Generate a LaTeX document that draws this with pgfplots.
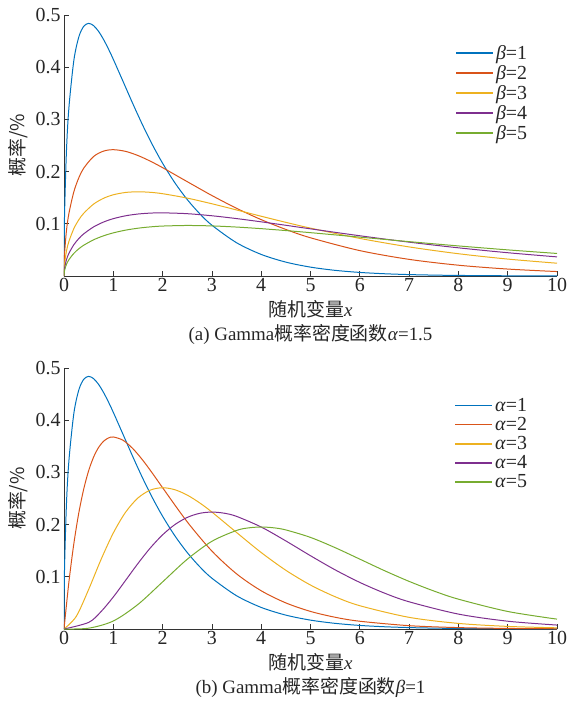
\documentclass[border=0pt]{standalone}
\usepackage{pgfplots}
\pgfplotsset{compat=1.18}
\usepackage{fontspec}
\setmainfont{Liberation Serif}
\newfontfamily\cjk{Noto Sans CJK SC}
\definecolor{mB}{rgb}{0,0.447,0.741}
\definecolor{mR}{rgb}{0.85,0.325,0.098}
\definecolor{mY}{rgb}{0.929,0.694,0.125}
\definecolor{mP}{rgb}{0.494,0.184,0.556}
\definecolor{mG}{rgb}{0.466,0.674,0.188}
\pgfplotsset{
  gam/.style={
    scale only axis, width=493bp, height=261bp,
    xmin=0, xmax=10, ymin=0, ymax=0.5,
    xtick={0,1,...,10}, ytick={0.1,0.2,0.3,0.4,0.5},
    axis lines=left, axis line style={-, black!80, line width=0.7pt},
    tick align=inside, major tick length=5bp,
    tick style={black!80, line width=0.7pt},
    /pgf/number format/assume math mode=true,
    yticklabel style={/pgf/number format/.cd, fixed, precision=1},
    ticklabel style={font=\fontsize{20}{22}\selectfont, text=black!85},
    xticklabel style={yshift=1bp},
    label style={font=\fontsize{19}{24}\selectfont, text=black!85},
    xlabel style={align=center, yshift=-2bp},
    ylabel style={yshift=1bp},
    ylabel={\cjk 概率/\%},
    legend style={at={(0.95,0.9)}, anchor=north east, draw=none, fill=none,
      font=\fontsize{20}{21}\selectfont, row sep=0.5bp, text=black!85},
    legend cell align=left,
    legend image code/.code={\draw[#1, line width=1.4pt] (0bp,0bp) -- (37bp,0bp);},
    every axis plot/.append style={line width=1pt, smooth, no markers},
    clip=true,
  }
}
\begin{document}
\begin{tikzpicture}
\useasboundingbox (-64bp,-425bp) rectangle (505bp,276bp);
\begin{axis}[gam, xlabel={{\cjk 随机变量}\textit{x}\\(a) Gamma{\cjk 概率密度函数}\textit{α}=1.5}]
\addplot[mB] coordinates {(0,0) (0.01,0.11172) (0.05,0.24001) (0.1,0.32287) (0.2,0.41315) (0.3,0.45785) (0.4,0.47837) (0.5,0.48394) (0.6,0.47968) (0.7,0.46881) (0.8,0.45349) (0.9,0.43522) (1.0,0.41511) (1.2,0.37230) (1.4,0.32924) (1.6,0.28817) (1.8,0.25024) (2.0,0.21597) (2.25,0.17840) (2.5,0.14645) (2.75,0.11962) (3.0,0.09730) (3.5,0.06375) (4.0,0.04134) (4.5,0.02659) (5.0,0.01700) (5.5,0.01082) (6.0,0.00685) (6.5,0.00432) (7.0,0.00272) (7.5,0.00171) (8.0,0.00107) (9.0,0.00042) (10,0.00016)};
\addlegendentry{\textit{β}=1}
\addplot[mR] coordinates {(0,0) (0.01,0.03970) (0.05,0.08700) (0.1,0.12000) (0.2,0.16143) (0.3,0.18807) (0.4,0.20658) (0.6,0.22893) (0.8,0.23919) (1.0,0.24197) (1.25,0.23874) (1.5,0.23080) (1.75,0.22000) (2.0,0.20755) (2.5,0.18072) (3.0,0.15418) (3.5,0.12970) (4.0,0.10798) (4.5,0.08920) (5.0,0.07322) (6.0,0.04865) (7.0,0.03187) (8.0,0.02067) (9.0,0.01330) (10,0.00850)};
\addlegendentry{\textit{β}=2}
\addplot[mY] coordinates {(0,0) (0.01,0.02164) (0.05,0.04776) (0.1,0.06642) (0.2,0.09085) (0.3,0.10762) (0.4,0.12020) (0.6,0.13772) (0.8,0.14877) (1.0,0.15560) (1.25,0.16006) (1.5,0.16131) (1.75,0.16031) (2.0,0.15767) (2.5,0.14922) (3.0,0.13837) (3.5,0.12651) (4.0,0.11448) (4.5,0.10279) (5.0,0.09171) (6.0,0.07199) (7.0,0.05571) (8.0,0.04268) (9.0,0.03243) (10,0.02450)};
\addlegendentry{\textit{β}=3}
\addplot[mP] coordinates {(0,0) (0.01,0.01407) (0.05,0.03115) (0.1,0.04350) (0.2,0.06000) (0.3,0.07167) (0.4,0.08072) (0.6,0.09404) (0.8,0.10329) (1.0,0.10985) (1.25,0.11537) (1.5,0.11873) (1.75,0.12047) (2.0,0.12099) (2.5,0.11937) (3.0,0.11540) (3.5,0.11000) (4.0,0.10378) (4.5,0.09714) (5.0,0.09036) (6.0,0.07709) (7.0,0.06485) (8.0,0.05399) (9.0,0.04460) (10,0.03661)};
\addlegendentry{\textit{β}=4}
\addplot[mG] coordinates {(0,0) (0.01,0.01007) (0.05,0.02234) (0.1,0.03128) (0.2,0.04337) (0.3,0.05206) (0.4,0.05892) (0.6,0.06934) (0.8,0.07692) (1.0,0.08263) (1.25,0.08788) (1.5,0.09157) (1.75,0.09408) (2.0,0.09568) (2.5,0.09679) (3.0,0.09594) (3.5,0.09376) (4.0,0.09070) (4.5,0.08704) (5.0,0.08302) (6.0,0.07446) (7.0,0.06585) (8.0,0.05763) (9.0,0.05005) (10,0.04319)};
\addlegendentry{\textit{β}=5}
\end{axis}
\begin{axis}[gam, at={(0,-353bp)}, xlabel={{\cjk 随机变量}\textit{x}\\(b) Gamma{\cjk 概率密度函数}\textit{β}=1}]
\addplot[mB] coordinates {(0,0) (0.01,0.11172) (0.05,0.24001) (0.1,0.32287) (0.2,0.41315) (0.3,0.45785) (0.4,0.47837) (0.5,0.48394) (0.6,0.47968) (0.7,0.46881) (0.8,0.45349) (0.9,0.43522) (1.0,0.41511) (1.2,0.37230) (1.4,0.32924) (1.6,0.28817) (1.8,0.25024) (2.0,0.21597) (2.25,0.17840) (2.5,0.14645) (2.75,0.11962) (3.0,0.09730) (3.5,0.06375) (4.0,0.04134) (4.5,0.02659) (5.0,0.01700) (5.5,0.01082) (6.0,0.00685) (6.5,0.00432) (7.0,0.00272) (7.5,0.00171) (8.0,0.00107) (9.0,0.00042) (10,0.00016)};
\addlegendentry{\textit{α}=1}
\addplot[mR] coordinates {(0,0) (0.1,0.090484) (0.2,0.163746) (0.3,0.222245) (0.4,0.268128) (0.5,0.303265) (0.6,0.329287) (0.7,0.347610) (0.8,0.359463) (0.9,0.365913) (1.0,0.367879) (1.2,0.361433) (1.4,0.345236) (1.6,0.323035) (1.8,0.297538) (2.0,0.270670) (2.5,0.205213) (3.0,0.149361) (3.5,0.105690) (4.0,0.073264) (4.5,0.049991) (5.0,0.033690) (5.5,0.022479) (6.0,0.014874) (7.0,0.006384) (8.0,0.002680) (9.0,0.001107) (10,0.000454)};
\addlegendentry{\textit{α}=2}
\addplot[mY] coordinates {(0,0) (0.25,0.024338) (0.5,0.075816) (0.75,0.132853) (1.0,0.183940) (1.25,0.223832) (1.5,0.251021) (1.75,0.266091) (2.0,0.270670) (2.25,0.266791) (2.5,0.256516) (2.75,0.241728) (3.0,0.224042) (3.5,0.184957) (4.0,0.146528) (4.5,0.112479) (5.0,0.084225) (5.5,0.061816) (6.0,0.044622) (7.0,0.022344) (8.0,0.010720) (9.0,0.004982) (10,0.00227)};
\addlegendentry{\textit{α}=3}
\addplot[mP] coordinates {(0,0) (0.5,0.012636) (0.75,0.033213) (1.0,0.061313) (1.25,0.093263) (1.5,0.125511) (1.75,0.155219) (2.0,0.180447) (2.25,0.200093) (2.5,0.213763) (2.75,0.221587) (3.0,0.224042) (3.25,0.221843) (3.5,0.215785) (4.0,0.195371) (4.5,0.168718) (5.0,0.140375) (5.5,0.113327) (6.0,0.089244) (6.5,0.068793) (7.0,0.052136) (8.0,0.028587) (9.0,0.014945) (10,0.007567)};
\addlegendentry{\textit{α}=4}
\addplot[mG] coordinates {(0,0) (0.5,0.001580) (1.0,0.015328) (1.5,0.047066) (2.0,0.090223) (2.5,0.133602) (3.0,0.168031) (3.5,0.188812) (3.75,0.193786) (4.0,0.195371) (4.25,0.193906) (4.5,0.189808) (5.0,0.175469) (5.5,0.155828) (6.0,0.133866) (6.5,0.111790) (7.0,0.091238) (7.5,0.072904) (8.0,0.057173) (9.0,0.033625) (10,0.018917)};
\addlegendentry{\textit{α}=5}
\end{axis}
\end{tikzpicture}
\end{document}
